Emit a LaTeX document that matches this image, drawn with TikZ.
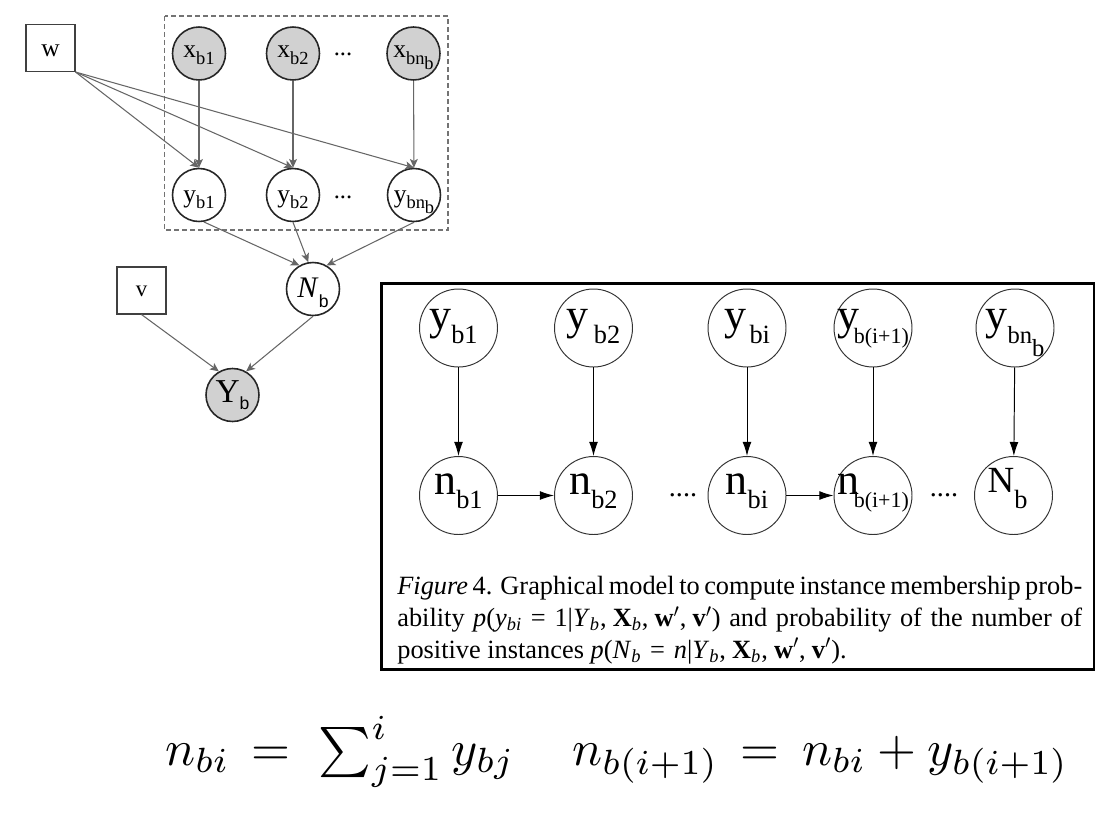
\documentclass[tikz,border=0pt]{standalone}
\usepackage{graphicx}
\usepackage{fontspec}
\setmainfont{Liberation Serif}
\newfontfamily\sansf{Liberation Sans}
\usetikzlibrary{arrows.meta}
% raised label: #1 raise of baseline, #2 main size, #3 main text, #4 sub size, #5 sub text, #6 sub drop
\newcommand{\glab}[6]{\raisebox{#1}[0pt][0pt]{\fontsize{#2}{#2}\selectfont #3\raisebox{-#6}{\fontsize{#4}{#4}\selectfont #5}}}
\newcommand{\rlab}[2]{\raisebox{#1}[0pt][0pt]{#2}}
\newcommand{\meq}{\kern5pt=\kern5pt}
\newcommand{\mcm}{,\kern3.5pt}
\begin{document}
\begin{tikzpicture}[x=0.02cm,y=-0.02cm,
  lnode/.style={circle, draw=black!85, line width=0.9pt, minimum size=10.6mm, inner sep=0pt},
  obs/.style={lnode, fill=black!18},
  lbox/.style={draw=black!75, line width=0.6pt, minimum width=9.8mm, minimum height=9.4mm, inner sep=0pt},
  larr/.style={draw=black!60, line width=0.6pt, -{Stealth[length=5pt,width=4.5pt,inset=1.2pt]}},
  rnode/.style={circle, draw=black!80, line width=0.55pt, minimum size=15.6mm, inner sep=0pt},
  rarr/.style={draw=black, line width=0.55pt, -{Latex[length=8pt,width=5pt]}},
  plate/.style={draw=black!55, line width=0.6pt, dash pattern=on 1mm off 0.6mm},
  dotsl/.style={inner sep=0pt, font=\fontsize{14pt}{14pt}\selectfont},
  dotsr/.style={inner sep=0pt, font=\fontsize{16pt}{16pt}\selectfont},
  capline/.style={anchor=base west, inner sep=0pt, font=\fontsize{15pt}{18pt}\selectfont},
  eqn/.style={anchor=base west, inner sep=0pt, font=\fontsize{10pt}{12pt}\selectfont}
]
\useasboundingbox (0,0) rectangle (1101,822);

% ---------------- left model ----------------
\draw[plate] (164.5,16) rectangle (448,230);

\node[lbox] (w) at (50.5,48) {\rlab{-5pt}{\fontsize{14.5pt}{14.5pt}\selectfont w}};
\node[lbox] (v) at (141.5,290.5) {\rlab{-3.2pt}{\fontsize{13pt}{13pt}\selectfont v}};

\node[obs] (xb1) at (199,53.5) {\glab{-2pt}{14.5pt}{x}{10.5pt}{b1}{4pt}};
\node[obs] (xb2) at (293,53.5) {\glab{-2pt}{14.5pt}{x}{10.5pt}{b2}{4pt}};
\node[obs] (xbn) at (413.5,53.5) {\glab{-2pt}{14.5pt}{x}{10.5pt}{bn\raisebox{-3pt}{b}}{4pt}};
\node[dotsl] (xdots) at (343,55) {\rlab{0pt}{...}};

\node[lnode] (yb1) at (199,195) {\glab{-4.5pt}{14.5pt}{y}{10.5pt}{b1}{3pt}};
\node[lnode] (yb2) at (293,195) {\glab{-4.5pt}{14.5pt}{y}{10.5pt}{b2}{3pt}};
\node[lnode] (ybn) at (414,195) {\glab{-4.5pt}{14.5pt}{y}{10.5pt}{bn\raisebox{-3pt}{b}}{3pt}};
\node[dotsl] (ydots) at (343,198) {\rlab{0pt}{...}};

\node[lnode] (Nb) at (313,289) {\glab{-5pt}{17pt}{\textit{N}}{10pt}{\sansf b}{5.5pt}};
\node[obs] (Yb) at (232.5,395) {\glab{-4pt}{19pt}{Y}{10pt}{\sansf b}{4.5pt}};

\draw[larr] (xb1) -- (yb1);
\draw[larr] (xb2) -- (yb2);
\draw[larr] (xbn) -- (ybn);
\draw[larr] (w.south east) -- (yb1.north);
\draw[larr] (w.south east) -- (yb2.north);
\draw[larr] (w.south east) -- (ybn.north);
\draw[larr] (yb1.-80) -- (Nb.120);
\draw[larr] (yb2.south) -- (Nb.100);
\draw[larr] (ybn.south) -- (Nb.60);
\draw[larr] (v.south) -- (Yb.120);
\draw[larr] (Nb.south) -- (Yb.60);

% ---------------- right model ----------------
\draw[line width=1.3pt] (381.5,283.5) rectangle (1094,669.5);

\node[rnode] (ryb1) at (458.5,328) {\glab{-1.1pt}{25pt}{y}{15pt}{b1\kern2mm}{8pt}};
\node[rnode] (ryb2) at (593.5,328) {\glab{-1.1pt}{25pt}{y\kern3pt}{15pt}{b2}{8pt}};
\node[rnode] (rybi) at (747,328) {\glab{-1.1pt}{25pt}{y\kern2pt}{15pt}{bi}{8pt}};
\node[rnode] (rybj) at (873,328) {\glab{-1.1pt}{25pt}{y\kern-3pt}{12.5pt}{b(i+1)}{8pt}};
\node[rnode] (rybn) at (1015,328) {\glab{-1.1pt}{25pt}{y}{14pt}{bn\raisebox{-7pt}{b}}{8pt}};

\node[rnode] (rnb1) at (458.5,495.5) {\glab{0.8pt}{25pt}{n}{15pt}{b1}{8pt}};
\node[rnode] (rnb2) at (593.5,495.5) {\glab{0.8pt}{25pt}{n}{15pt}{b2}{8pt}};
\node[rnode] (rnbi) at (747,495.5) {\glab{0.8pt}{25pt}{n}{15pt}{bi}{8pt}};
\node[rnode] (rnbj) at (873,495.5) {\glab{0.8pt}{25pt}{n\kern-3pt}{12.5pt}{b(i+1)}{7.5pt}};
\node[rnode] (rNb) at (1013.5,495.5) {\glab{1.5pt}{21pt}{N}{15pt}{b\kern2.4mm}{9pt}};

\node[dotsr] (rdots1) at (683,496) {\rlab{0pt}{....}};
\node[dotsr] (rdots2) at (944,496) {\rlab{0pt}{....}};

\draw[rarr] (ryb1) -- (rnb1);
\draw[rarr] (ryb2) -- (rnb2);
\draw[rarr] (rybi) -- (rnbi);
\draw[rarr] (rybj) -- (rnbj);
\draw[rarr] (rybn) -- (rNb);
\draw[rarr] (rnb1) -- (rnb2);
\draw[rarr] (rnbi) -- (rnbj);

% caption
\node[capline] (cap1) at (397,594.3) {\makebox[13.7cm][s]{\textit{Figure} 4. Graphical model to compute instance membership prob-}};
\node[capline] (cap2) at (397,626.5) {\makebox[13.7cm][s]{ability \textit{p}(\textit{y}\textsubscript{\textit{bi}}\meq1|\textit{Y}\textsubscript{\textit{b}}\mcm\textbf{X}\textsubscript{\textit{b}}\mcm\textbf{w}$'$\mcm\textbf{v}$'$) and probability of the number of}};
\node[capline] (cap3) at (397,658) {positive instances \textit{p}(\textit{N}\textsubscript{\textit{b}}\meq\textit{n}|\textit{Y}\textsubscript{\textit{b}}\mcm\textbf{X}\textsubscript{\textit{b}}\mcm\textbf{w}$'$\mcm\textbf{v}$'$).};

% equations
\node[eqn] (eq1) at (165,765) {\scalebox{2.85}{$n_{bi}\,=\;\sum_{j=1}^{i} y_{bj}$}};
\node[eqn] (eq2) at (572,765) {\scalebox{2.85}{$n_{b(i+1)}\,=\,n_{bi}+y_{b(i+1)}$}};
\end{tikzpicture}
\end{document}
